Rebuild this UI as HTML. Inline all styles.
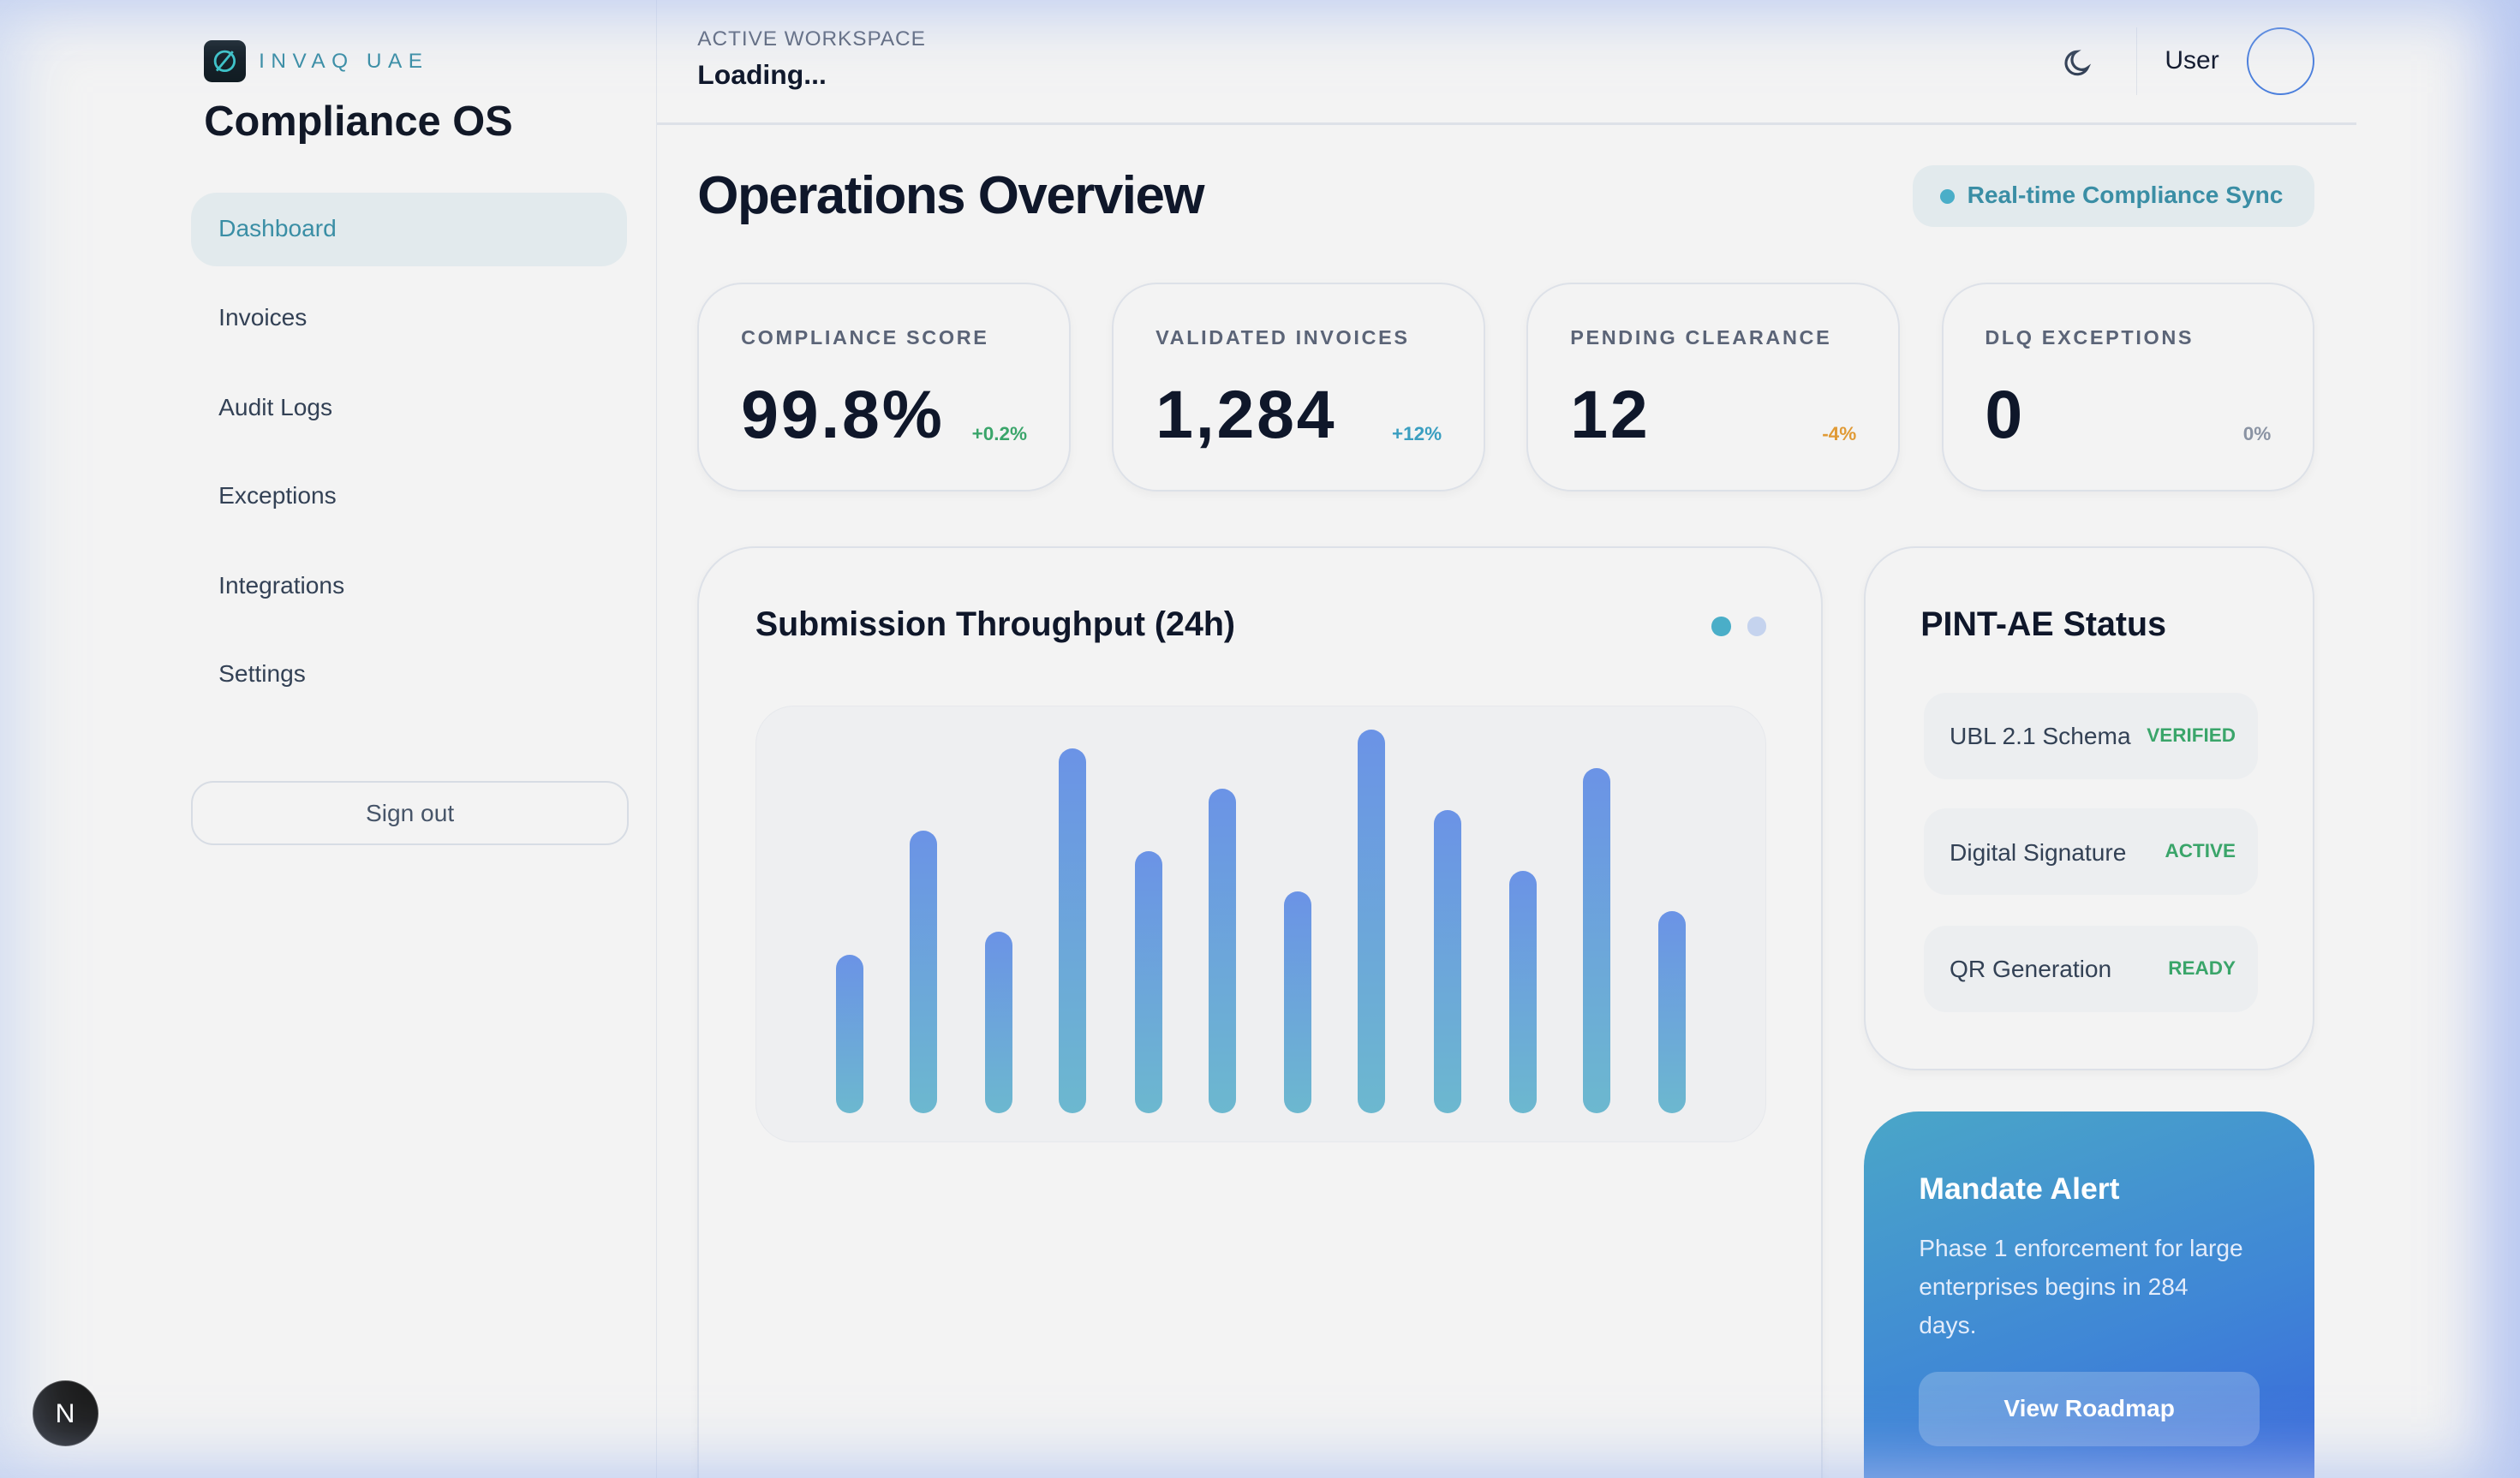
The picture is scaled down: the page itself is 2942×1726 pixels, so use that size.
<!DOCTYPE html>
<html><head><meta charset="utf-8"><style>
html,body{margin:0;padding:0;overflow:hidden;width:2942px;height:1726px}
body{background:#f3f3f3;font-family:"Liberation Sans",sans-serif}
#r{position:relative;width:1568px;height:920px;zoom:1.87628;color:#0f172a;overflow:hidden}
.glow{position:absolute;inset:0;box-shadow:inset 0 0 40px 10px rgba(180,200,240,.55), inset -30px 0 40px -10px rgba(150,170,240,.6);pointer-events:none;z-index:5}
.a{position:absolute}
.side{left:0;top:0;width:408px;height:920px;border-right:1px solid #dfe3ea}
.nav{left:136px;font-size:15px;color:#334155}
.card{position:absolute;border:1.5px solid #dde1e8;border-radius:28px;background:#f3f3f3;box-shadow:0 2px 6px rgba(0,0,0,.04)}
.lbl{position:absolute;left:26px;top:26px;font-size:12.5px;font-weight:bold;letter-spacing:1.4px;color:#5b6477}
.big{position:absolute;left:26px;top:57px;font-size:42px;font-weight:900;letter-spacing:1.5px;color:#0f172a}
.chg{position:absolute;right:26px;top:86px;font-size:12px;font-weight:bold}
.bar{position:absolute;width:17px;border-radius:9px;background:linear-gradient(#6b93e6,#6cb8cf);bottom:227px}
.pill{position:absolute;left:36px;width:208px;height:54px;border-radius:14px;background:#eceef0;font-size:15px;color:#334155}
.pill span{position:absolute;top:19px}
.pill b{position:absolute;right:14px;top:20px;font-size:12px;color:#3aa56a}
</style></head><body><div id="r">
<div class="a side"></div>
<div class="a" style="left:127px;top:25px;width:26px;height:26px;border-radius:5px;background:#111c22"><svg width="26" height="26"><circle cx="13" cy="13" r="6" fill="none" stroke="#3cc3c8" stroke-width="1.5"/><line x1="8" y1="19" x2="18" y2="7" stroke="#3cc3c8" stroke-width="1.5"/></svg></div>
<div class="a" style="left:161px;top:31px;font-size:13px;letter-spacing:4px;color:#3a8ea5">INVAQ UAE</div>
<div class="a" style="left:127px;top:61px;font-size:26px;letter-spacing:0;font-weight:bold;color:#111827">Compliance OS</div>
<div class="a" style="left:119px;top:120px;width:271px;height:46px;border-radius:16px;background:#e2eaed"></div>
<div class="a nav" style="top:134px;color:#3a8ea5">Dashboard</div>
<div class="a nav" style="top:189px">Invoices</div>
<div class="a nav" style="top:245px">Audit Logs</div>
<div class="a nav" style="top:300px">Exceptions</div>
<div class="a nav" style="top:356px">Integrations</div>
<div class="a nav" style="top:411px">Settings</div>
<div class="a" style="left:119px;top:486px;width:270px;height:38px;border:1.5px solid #d7dce4;border-radius:14px;text-align:center;line-height:38px;font-size:15px;color:#475569">Sign out</div>
<div class="a" style="left:20px;top:859px;width:40px;height:40px;border-radius:50%;background:#1c1c1c;border:1px solid #555;color:#fff;text-align:center;line-height:40px;font-size:17px">N</div>

<div class="a" style="left:434px;top:17px;font-size:13px;letter-spacing:.5px;color:#5b6477">ACTIVE WORKSPACE</div>
<div class="a" style="left:434px;top:37px;font-size:17px;font-weight:bold">Loading...</div>
<svg class="a" style="left:1283px;top:28px" width="22" height="22"><path d="M16 14A7 7 0 1 1 9 4a5.5 5.5 0 0 0 7 10z" fill="none" stroke="#334155" stroke-width="1.7"/></svg>
<div class="a" style="left:1329px;top:17px;width:1px;height:42px;background:#dde1e8"></div>
<div class="a" style="left:1347px;top:29px;font-size:16px">User</div>
<div class="a" style="left:1398px;top:17px;width:40px;height:40px;border-radius:50%;border:1.5px solid #4b7fdc"></div>
<div class="a" style="left:409px;top:76px;width:1057px;height:2px;background:#dde1e8"></div>

<div class="a" style="left:434px;top:103px;font-size:33px;font-weight:bold;letter-spacing:-.8px">Operations Overview</div>
<div class="a" style="left:1190px;top:103px;width:250px;height:38px;border-radius:13px;background:#e2eaed"></div>
<div class="a" style="left:1207px;top:118px;width:9px;height:9px;border-radius:50%;background:#4aaec8"></div>
<div class="a" style="left:1224px;top:113px;font-size:15px;font-weight:bold;color:#3a8ea5">Real-time Compliance Sync</div>

<div class="card" style="left:434px;top:176px;width:230px;height:128px"><div class="lbl">COMPLIANCE SCORE</div><div class="big">99.8%</div><div class="chg" style="color:#3aa56a">+0.2%</div></div>
<div class="card" style="left:692px;top:176px;width:230px;height:128px"><div class="lbl">VALIDATED INVOICES</div><div class="big">1,284</div><div class="chg" style="color:#3a9ec0">+12%</div></div>
<div class="card" style="left:950px;top:176px;width:230px;height:128px"><div class="lbl">PENDING CLEARANCE</div><div class="big">12</div><div class="chg" style="color:#e09a35">-4%</div></div>
<div class="card" style="left:1208px;top:176px;width:230px;height:128px"><div class="lbl">DLQ EXCEPTIONS</div><div class="big">0</div><div class="chg" style="color:#8a93a3">0%</div></div>

<div class="card" style="left:434px;top:340px;width:698px;height:620px;border-radius:36px"></div>
<div class="a" style="left:470px;top:377px;font-size:21px;font-weight:bold">Submission Throughput (24h)</div>
<div class="a" style="left:1065px;top:384px;width:12px;height:12px;border-radius:50%;background:#4aaec8"></div>
<div class="a" style="left:1087px;top:384px;width:12px;height:12px;border-radius:50%;background:#c5d3ee"></div>
<div class="a" style="left:470px;top:439px;width:628px;height:271px;border-radius:24px;background:#eeeff1;border:1px solid #e6e8ec"></div>
<div class="bar" style="left:520px;top:594px"></div>
<div class="bar" style="left:566px;top:517px"></div>
<div class="bar" style="left:613px;top:580px"></div>
<div class="bar" style="left:659px;top:466px"></div>
<div class="bar" style="left:706px;top:530px"></div>
<div class="bar" style="left:752px;top:491px"></div>
<div class="bar" style="left:799px;top:555px"></div>
<div class="bar" style="left:845px;top:454px"></div>
<div class="bar" style="left:892px;top:504px"></div>
<div class="bar" style="left:939px;top:542px"></div>
<div class="bar" style="left:985px;top:478px"></div>
<div class="bar" style="left:1032px;top:567px"></div>

<div class="card" style="left:1160px;top:340px;width:278px;height:324px;border-radius:32px">
<div class="a" style="left:34px;top:36px;font-size:21px;font-weight:bold">PINT-AE Status</div>
<div class="pill" style="top:90px"><span style="left:16px">UBL 2.1 Schema</span><b>VERIFIED</b></div>
<div class="pill" style="top:162px"><span style="left:16px">Digital Signature</span><b>ACTIVE</b></div>
<div class="pill" style="top:235px"><span style="left:16px">QR Generation</span><b>READY</b></div>
</div>
<div class="a" style="left:1160px;top:692px;width:280px;height:260px;border-radius:34px;background:linear-gradient(160deg,#4aa6c8,#3f86d6 55%,#3a62dc)"></div>
<div class="a" style="left:1194px;top:729px;font-size:19px;font-weight:bold;color:#fff">Mandate Alert</div>
<div class="a" style="left:1194px;top:765px;width:206px;font-size:15px;line-height:24px;color:#e3ecfb">Phase 1 enforcement for large enterprises begins in 284 days.</div>
<div class="a" style="left:1194px;top:854px;width:212px;height:46px;border-radius:12px;background:rgba(255,255,255,.22);color:#fff;font-weight:bold;font-size:15px;text-align:center;line-height:46px">View Roadmap</div>
<div class="glow"></div>
</div></body></html>
